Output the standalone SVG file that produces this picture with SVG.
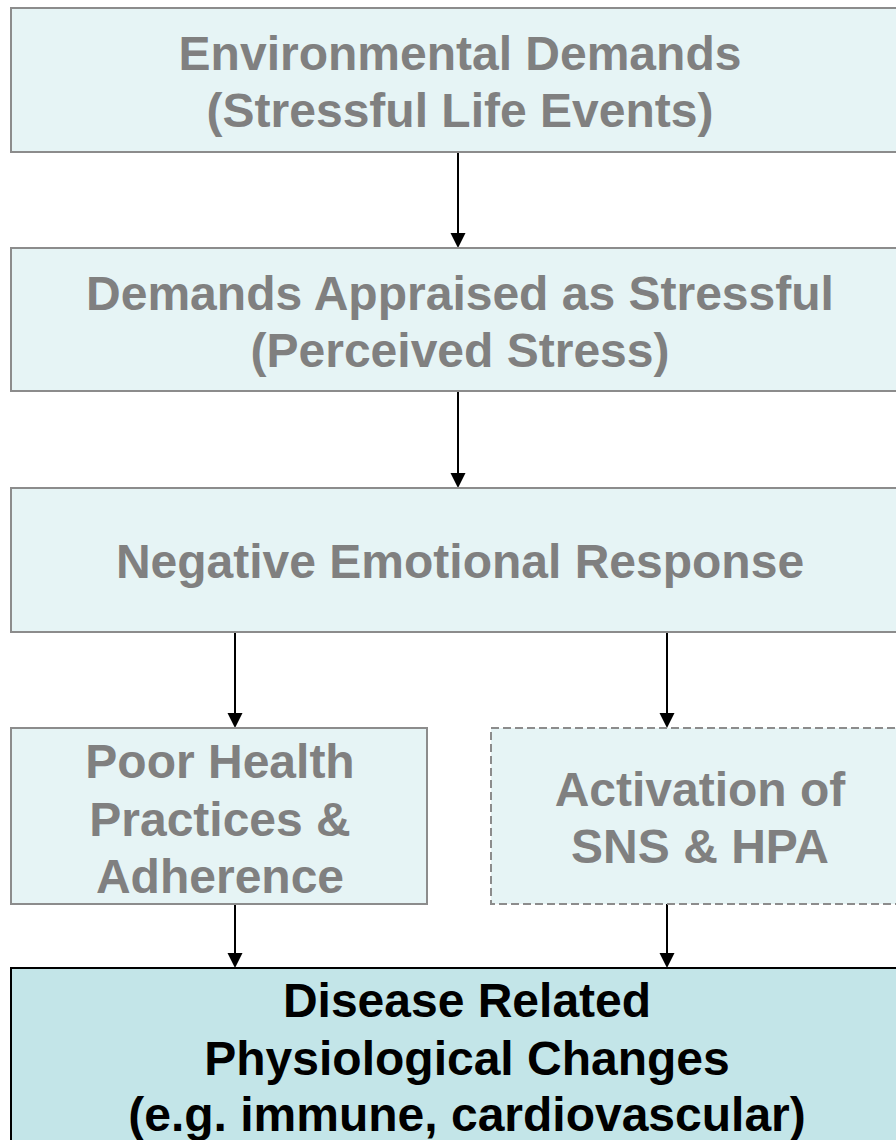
<svg xmlns="http://www.w3.org/2000/svg" width="896" height="1140" viewBox="0 0 896 1140">
<style>
.box{fill:#e6f4f5;stroke:#8c8c8c;stroke-width:2}
.dash{stroke-dasharray:8 4}
.main{fill:#c3e5e8;stroke:#000;stroke-width:2}
.t{font-family:"Liberation Sans",Arial,sans-serif;font-weight:bold;font-size:48px;fill:#808080;text-anchor:middle}
.tb{fill:#000}
.conn{stroke:#000;stroke-width:2;fill:none}
</style>
<rect width="896" height="1140" fill="#fff"/>
<g id="connectors">
<line class="conn" x1="458" y1="152" x2="458" y2="233"/>
<path d="M450.5,233 L465.5,233 L458,248 Z"/>
<line class="conn" x1="458" y1="391" x2="458" y2="473"/>
<path d="M450.5,473 L465.5,473 L458,488 Z"/>
<line class="conn" x1="235" y1="632" x2="235" y2="713"/>
<path d="M227.5,713 L242.5,713 L235,728 Z"/>
<line class="conn" x1="667" y1="632" x2="667" y2="713"/>
<path d="M659.5,713 L674.5,713 L667,728 Z"/>
<line class="conn" x1="235" y1="904" x2="235" y2="953"/>
<path d="M227.5,953 L242.5,953 L235,968 Z"/>
<line class="conn" x1="667" y1="904" x2="667" y2="953"/>
<path d="M659.5,953 L674.5,953 L667,968 Z"/>
</g>
<g id="n1">
<rect class="box" x="11" y="8" width="898" height="144"/>
<text class="t" x="460" y="69.5">Environmental Demands</text>
<text class="t" x="460" y="127">(Stressful Life Events)</text>
</g>
<g id="n2">
<rect class="box" x="11" y="248" width="898" height="143"/>
<text class="t" x="460" y="309.5">Demands Appraised as Stressful</text>
<text class="t" x="460" y="367">(Perceived Stress)</text>
</g>
<g id="n3">
<rect class="box" x="11" y="488" width="898" height="144"/>
<text class="t" x="460" y="578">Negative Emotional Response</text>
</g>
<g id="n4">
<rect class="box" x="11" y="728" width="416" height="176"/>
<text class="t" x="220" y="778">Poor Health</text>
<text class="t" x="220" y="835.5">Practices &amp;</text>
<text class="t" x="220" y="893">Adherence</text>
</g>
<g id="n5">
<rect class="box dash" x="491" y="728" width="418" height="176"/>
<text class="t" x="700" y="806">Activation of</text>
<text class="t" x="700" y="863">SNS &amp; HPA</text>
</g>
<g id="n6">
<rect class="main" x="11" y="968" width="912" height="190"/>
<text class="t tb" x="467" y="1017">Disease Related</text>
<text class="t tb" x="467" y="1075">Physiological Changes</text>
<text class="t tb" x="467" y="1131">(e.g. immune, cardiovascular)</text>
</g>
</svg>
